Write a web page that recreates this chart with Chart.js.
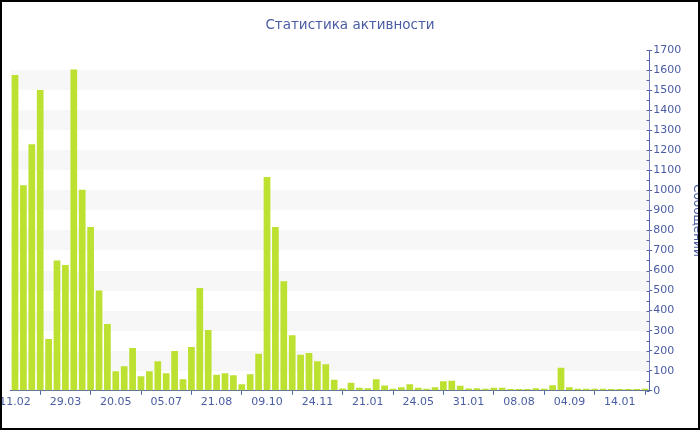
<!DOCTYPE html>
<html>
<head>
<meta charset="utf-8">
<script src="https://cdn.jsdelivr.net/npm/chart.js@4/dist/chart.umd.min.js"></script>
<style>
  html, body { margin: 0; padding: 0; background: #fff; }
  canvas { display: block; }
</style>
</head>
<body>
<canvas id="c" width="700" height="430"></canvas>
<script>
const chartTitle = 'Статистика активности';
const axisTitle = 'Сообщений';
const tickLabels = ['11.02','29.03','20.05','05.07','21.08','09.10','24.11','21.01','24.05','31.01','08.08','04.09','14.01'];
const values = [
  1575,1025,1230,1500,258,650,628,1603,1003,817,500,333,
  98,122,213,73,97,148,87,198,58,218,513,303,
  80,87,78,33,83,185,1067,817,547,277,180,188,
  148,133,55,12,40,15,13,58,27,10,18,33,
  15,10,18,48,50,25,12,13,10,15,15,9,
  9,9,13,10,28,115,18,10,10,10,10,9,
  9,9,9,10
];
const labelEvery = 6;
const categories = values.map((_, i) => i % labelEvery === 0 ? (tickLabels[i / labelEvery] || '') : '');

const textColor = '#4a5ca3';
const axisColor = '#5566aa';
const barColor = '#bce131';
const bandColor = '#f7f7f7';
Chart.defaults.font.family = "'DejaVu Sans', Verdana, sans-serif";

const bands = {
  id: 'bands',
  beforeDatasetsDraw(chart) {
    const { ctx, chartArea: a, scales: { y } } = chart;
    ctx.save();
    ctx.fillStyle = bandColor;
    for (let v = 100; v < 1700; v += 200) {
      const t = Math.round(y.getPixelForValue(v + 100));
      const b = Math.round(y.getPixelForValue(v));
      ctx.fillRect(a.left, t, a.right - a.left, b - t);
    }
    ctx.restore();
  }
};

const extras = {
  id: 'extras',
  afterDraw(chart) {
    const { ctx, scales: { y } } = chart;
    ctx.save();
    ctx.strokeStyle = axisColor;
    ctx.lineWidth = 1;
    const x = Math.round(y.left) + 0.5;
    for (let v = 0; v <= 1700; v += 50) {
      const py = Math.round(y.getPixelForValue(v)) + 0.5;
      ctx.beginPath();
      ctx.moveTo(x - 3, py);
      ctx.lineTo(x, py);
      ctx.stroke();
    }
    ctx.strokeStyle = '#000';
    ctx.lineWidth = 2;
    ctx.strokeRect(1, 1, 698, 428);
    ctx.restore();
  }
};

new Chart(document.getElementById('c'), {
  type: 'bar',
  data: {
    labels: categories,
    datasets: [{
      data: values,
      backgroundColor: barColor,
      borderWidth: 0,
      barPercentage: 0.8,
      categoryPercentage: 1
    }]
  },
  options: {
    responsive: false,
    animation: false,
    devicePixelRatio: 1,
    layout: { padding: { left: 0, right: 0, top: 0, bottom: 20 } },
    plugins: {
      legend: { display: false },
      tooltip: { enabled: false },
      title: {
        display: true,
        text: chartTitle,
        color: textColor,
        font: { size: 13.5, weight: 'normal' },
        padding: { top: 17, bottom: 16.8 }
      }
    },
    scales: {
      x: {
        grid: { drawOnChartArea: false, tickLength: 4, color: axisColor },
        border: { color: axisColor },
        ticks: {
          autoSkip: false, maxRotation: 0, minRotation: 0, padding: 1,
          color: textColor, font: { size: 11 },
          callback: (v, i) => categories[i] === '' ? null : categories[i]
        },
        afterFit: s => { s.paddingLeft = 10.8; s.paddingRight = 0; }
      },
      y: {
        position: 'right',
        min: 0, max: 1700,
        ticks: { stepSize: 100, padding: 1, color: textColor, font: { size: 11 },
          callback: v => String(v) },
        grid: { drawOnChartArea: false, tickLength: 3, color: axisColor },
        border: { color: axisColor },
        title: {
          display: true, text: axisTitle, color: textColor,
          font: { size: 12 }, padding: { top: -4.5, bottom: 0 }
        },
        afterFit: s => { s.width = 50.8; }
      }
    }
  },
  plugins: [bands, extras]
});
</script>
</body>
</html>
